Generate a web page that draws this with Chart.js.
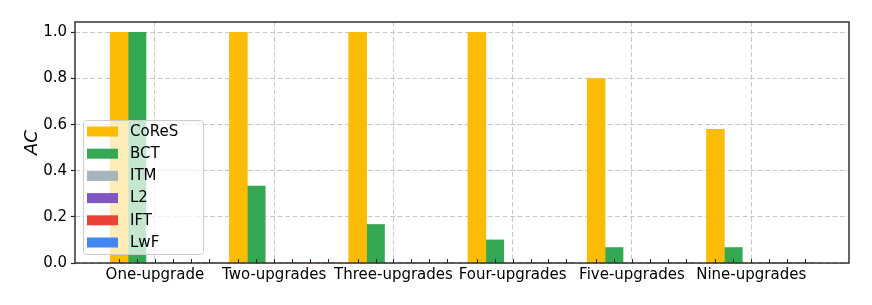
<!DOCTYPE html>
<html>
<head>
<meta charset="utf-8">
<script src="https://cdn.jsdelivr.net/npm/chart.js@4/dist/chart.umd.min.js"></script>
<style>
  html, body { margin: 0; padding: 0; background: #fff; }
  #wrap { width: 872px; height: 305px; }
</style>
</head>
<body>
<div id="wrap"><canvas id="chart" width="872" height="305"></canvas></div>
<script>
(function () {
  'use strict';

  // ── Data ───────────────────────────────────────────
  const categories = ['One-upgrade', 'Two-upgrades', 'Three-upgrades', 'Four-upgrades', 'Five-upgrades', 'Nine-upgrades'];
  const seriesNames = ['CoReS', 'BCT', 'ITM', 'L2', 'IFT', 'LwF'];
  const coresValues = [1.0, 1.0, 1.0, 1.0, 0.8, 0.58];
  const bctValues = [1.0, 0.333, 0.167, 0.1, 0.067, 0.067];
  const itmValues = [0, 0, 0, 0, 0, 0];
  const l2Values = [0, 0, 0, 0, 0, 0];
  const iftValues = [0, 0, 0, 0, 0, 0];
  const lwfValues = [0, 0, 0, 0, 0, 0];
  const yTicks = [0, 0.2, 0.4, 0.6, 0.8, 1.0];

  const seriesValues = [coresValues, bctValues, itmValues, l2Values, iftValues, lwfValues];
  const colors = ['#fbbc05', '#34a853', '#a8b4bc', '#7e57c2', '#ea4335', '#4285f4'];

  // bar layout like matplotlib: x = group + k * width, label under the 3rd bar
  const barW = 0.15;
  const labelSlot = 2;
  const FONT = "'DejaVu Sans', sans-serif";
  const GRID = '#c8c8c8';
  const AXIS = '#262626';

  const datasets = seriesNames.map(function (name, k) {
    return {
      label: name,
      data: seriesValues[k].map(function (v, i) { return { x: i + k * barW, y: v }; }),
      backgroundColor: colors[k],
      borderWidth: 0,
      grouped: false,
      barPercentage: 1,
      categoryPercentage: 1
    };
  });

  const xTickValues = [];
  categories.forEach(function (c, i) {
    for (let k = 0; k < seriesNames.length; k++) xTickValues.push(i + k * barW);
  });

  // ── Plugins: frame, inward x ticks, legend box ────
  const framePlugin = {
    id: 'frame',
    afterDatasetsDraw: function (chart) {
      const a = chart.chartArea;
      const ctx = chart.ctx;
      const xs = chart.scales.x;
      ctx.save();
      ctx.strokeStyle = AXIS;
      ctx.lineWidth = 1;
      xs.ticks.forEach(function (t) {
        const px = Math.round(xs.getPixelForValue(t.value)) + 0.5;
        ctx.beginPath();
        ctx.moveTo(px, a.bottom);
        ctx.lineTo(px, a.bottom - 4);
        ctx.stroke();
      });
      ctx.lineWidth = 1.4;
      ctx.strokeRect(a.left, a.top, a.right - a.left, a.bottom - a.top);
      ctx.restore();
    }
  };

  const legendBox = {
    id: 'legendBox',
    afterDraw: function (chart) {
      const a = chart.chartArea;
      const ctx = chart.ctx;
      const left = a.left + 8, bottom = a.bottom - 9;
      const w = 120, h = 134, top = bottom - h, r = 3;
      ctx.save();
      ctx.beginPath();
      ctx.roundRect(left + 0.5, top + 0.5, w, h, r);
      ctx.fillStyle = 'rgba(255,255,255,0.72)';
      ctx.fill();
      ctx.strokeStyle = '#cccccc';
      ctx.lineWidth = 1;
      ctx.stroke();
      ctx.font = '15px ' + FONT;
      ctx.textBaseline = 'middle';
      chart.data.datasets.forEach(function (ds, k) {
        const cy = top + 11.5 + k * 22.2;
        ctx.fillStyle = ds.backgroundColor;
        ctx.fillRect(left + 4, cy - 5, 31, 10);
        ctx.fillStyle = '#000';
        ctx.fillText(ds.label, left + 47, cy + 0.5);
      });
      ctx.restore();
    }
  };

  // ── Chart ──────────────────────────────────────────
  new Chart(document.getElementById('chart'), {
    type: 'bar',
    data: { datasets: datasets },
    plugins: [framePlugin, legendBox],
    options: {
      responsive: false,
      animation: false,
      layout: { padding: { left: 0, right: 23, top: 22, bottom: 0 } },
      plugins: {
        legend: { display: false },
        tooltip: { enabled: false }
      },
      scales: {
        x: {
          type: 'linear',
          offset: false,
          min: -0.37,
          max: 6.12,
          afterBuildTicks: function (s) { s.ticks = xTickValues.map(function (v) { return { value: v }; }); },
          afterFit: function (s) { s.height = 42; },
          ticks: {
            autoSkip: false,
            maxRotation: 0,
            minRotation: 0,
            padding: 3,
            color: '#000',
            font: { size: 15, family: FONT },
            callback: function (v, i) {
              return i % seriesNames.length === labelSlot ? categories[Math.floor(i / seriesNames.length)] : '';
            }
          },
          grid: {
            offset: false,
            drawTicks: false,
            color: function (c) { return c.index % seriesNames.length === labelSlot ? GRID : 'rgba(0,0,0,0)'; },
            lineWidth: 1
          },
          border: { display: false, dash: [5, 2.5] }
        },
        y: {
          min: 0,
          max: 1.045,
          afterBuildTicks: function (s) { s.ticks = yTicks.map(function (v) { return { value: v }; }); },
          afterFit: function (s) { s.width = 75; },
          ticks: {
            padding: 4,
            color: '#000',
            font: { size: 15, family: FONT },
            callback: function (v) { return v.toFixed(1); }
          },
          grid: {
            color: GRID,
            lineWidth: 1,
            drawTicks: true,
            tickLength: 4,
            tickColor: AXIS,
            tickWidth: 1.2
          },
          border: { display: false, dash: [5, 2.5] },
          title: {
            display: true,
            text: 'AC',
            color: '#000',
            padding: { top: 22, bottom: 0 },
            font: { size: 18, family: FONT, style: 'italic' }
          }
        }
      }
    }
  });
})();
</script>
</body>
</html>
